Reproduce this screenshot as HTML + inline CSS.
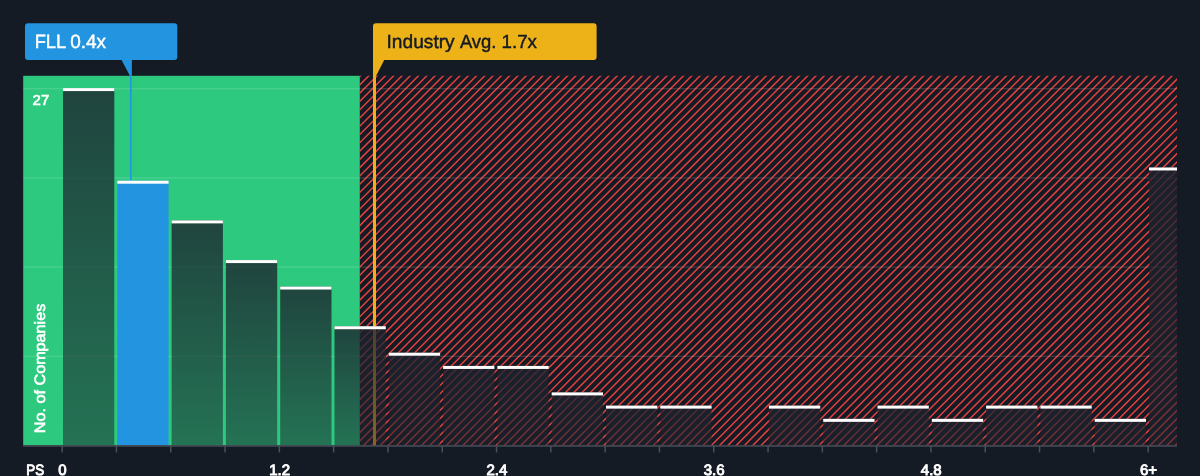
<!DOCTYPE html>
<html lang="en"><head><meta charset="utf-8"><title>PS ratio vs industry</title>
<style>html,body{margin:0;padding:0;background:#151b24;}body{width:1200px;height:476px;overflow:hidden;font-family:"Liberation Sans",sans-serif;}svg{display:block;text-rendering:geometricPrecision;}text{font-family:"Liberation Sans",sans-serif;}</style>
</head><body>
<svg width="1200" height="476" viewBox="0 0 1200 476">
<defs>
<linearGradient id="bar" x1="0" y1="0" x2="0" y2="1"><stop offset="0" stop-color="#1c232e" stop-opacity="0.8"/><stop offset="1" stop-color="#1c232e" stop-opacity="0.52"/></linearGradient>
<clipPath id="plot"><rect x="23.2" y="75.8" width="1153.8" height="369.6"/></clipPath>
</defs>
<rect width="1200" height="476" fill="#151b24"/>
<rect x="23.2" y="75.8" width="336.6" height="369.7" fill="#2dc97e"/>
<clipPath id="hz"><rect x="359.8" y="75.8" width="817.2" height="369.6"/></clipPath>
<path clip-path="url(#hz)" d="M-85.21 447L287.79 74M-76.93 447L296.07 74M-68.65 447L304.35 74M-60.37 447L312.63 74M-52.09 447L320.91 74M-43.80 447L329.20 74M-35.52 447L337.48 74M-27.24 447L345.76 74M-18.96 447L354.04 74M-10.68 447L362.32 74M-2.40 447L370.60 74M5.88 447L378.88 74M14.16 447L387.16 74M22.44 447L395.44 74M30.72 447L403.72 74M39.01 447L412.01 74M47.29 447L420.29 74M55.57 447L428.57 74M63.85 447L436.85 74M72.13 447L445.13 74M80.41 447L453.41 74M88.69 447L461.69 74M96.97 447L469.97 74M105.25 447L478.25 74M113.53 447L486.53 74M121.81 447L494.81 74M130.10 447L503.10 74M138.38 447L511.38 74M146.66 447L519.66 74M154.94 447L527.94 74M163.22 447L536.22 74M171.50 447L544.50 74M179.78 447L552.78 74M188.06 447L561.06 74M196.34 447L569.34 74M204.62 447L577.62 74M212.91 447L585.91 74M221.19 447L594.19 74M229.47 447L602.47 74M237.75 447L610.75 74M246.03 447L619.03 74M254.31 447L627.31 74M262.59 447L635.59 74M270.87 447L643.87 74M279.15 447L652.15 74M287.43 447L660.43 74M295.72 447L668.72 74M304.00 447L677.00 74M312.28 447L685.28 74M320.56 447L693.56 74M328.84 447L701.84 74M337.12 447L710.12 74M345.40 447L718.40 74M353.68 447L726.68 74M361.96 447L734.96 74M370.24 447L743.24 74M378.53 447L751.53 74M386.81 447L759.81 74M395.09 447L768.09 74M403.37 447L776.37 74M411.65 447L784.65 74M419.93 447L792.93 74M428.21 447L801.21 74M436.49 447L809.49 74M444.77 447L817.77 74M453.05 447L826.05 74M461.34 447L834.34 74M469.62 447L842.62 74M477.90 447L850.90 74M486.18 447L859.18 74M494.46 447L867.46 74M502.74 447L875.74 74M511.02 447L884.02 74M519.30 447L892.30 74M527.58 447L900.58 74M535.86 447L908.86 74M544.15 447L917.15 74M552.43 447L925.43 74M560.71 447L933.71 74M568.99 447L941.99 74M577.27 447L950.27 74M585.55 447L958.55 74M593.83 447L966.83 74M602.11 447L975.11 74M610.39 447L983.39 74M618.67 447L991.67 74M626.96 447L999.96 74M635.24 447L1008.24 74M643.52 447L1016.52 74M651.80 447L1024.80 74M660.08 447L1033.08 74M668.36 447L1041.36 74M676.64 447L1049.64 74M684.92 447L1057.92 74M693.20 447L1066.20 74M701.48 447L1074.48 74M709.77 447L1082.77 74M718.05 447L1091.05 74M726.33 447L1099.33 74M734.61 447L1107.61 74M742.89 447L1115.89 74M751.17 447L1124.17 74M759.45 447L1132.45 74M767.73 447L1140.73 74M776.01 447L1149.01 74M784.29 447L1157.29 74M792.58 447L1165.58 74M800.86 447L1173.86 74M809.14 447L1182.14 74M817.42 447L1190.42 74M825.70 447L1198.70 74M833.98 447L1206.98 74M842.26 447L1215.26 74M850.54 447L1223.54 74M858.82 447L1231.82 74M867.10 447L1240.10 74M875.39 447L1248.39 74M883.67 447L1256.67 74M891.95 447L1264.95 74M900.23 447L1273.23 74M908.51 447L1281.51 74M916.79 447L1289.79 74M925.07 447L1298.07 74M933.35 447L1306.35 74M941.63 447L1314.63 74M949.91 447L1322.91 74M958.20 447L1331.20 74M966.48 447L1339.48 74M974.76 447L1347.76 74M983.04 447L1356.04 74M991.32 447L1364.32 74M999.60 447L1372.60 74M1007.88 447L1380.88 74M1016.16 447L1389.16 74M1024.44 447L1397.44 74M1032.72 447L1405.72 74M1041.01 447L1414.01 74M1049.29 447L1422.29 74M1057.57 447L1430.57 74M1065.85 447L1438.85 74M1074.13 447L1447.13 74M1082.41 447L1455.41 74M1090.69 447L1463.69 74M1098.97 447L1471.97 74M1107.25 447L1480.25 74M1115.53 447L1488.53 74M1123.82 447L1496.82 74M1132.10 447L1505.10 74M1140.38 447L1513.38 74M1148.66 447L1521.66 74M1156.94 447L1529.94 74M1165.22 447L1538.22 74M1173.50 447L1546.50 74" stroke="#e44040" stroke-width="1.48" fill="none"/>
<rect x="23.2" y="355.70" width="1153.8" height="1.2" fill="#ffffff" fill-opacity="0.15"/>
<rect x="23.2" y="266.50" width="1153.8" height="1.2" fill="#ffffff" fill-opacity="0.15"/>
<rect x="23.2" y="177.30" width="1153.8" height="1.2" fill="#ffffff" fill-opacity="0.15"/>
<rect x="23.2" y="88.10" width="1153.8" height="1.2" fill="#ffffff" fill-opacity="0.15"/>
<rect x="373" y="58" width="3" height="387.5" fill="#eeb219"/>
<rect x="130" y="58" width="1.6" height="124" fill="#2394df"/>
<g clip-path="url(#plot)">
<rect x="63.00" y="88.09" width="51.30" height="357.21" fill="url(#bar)"/>
<rect x="117.30" y="180.70" width="51.30" height="264.60" fill="#2394df"/>
<rect x="171.60" y="220.39" width="51.30" height="224.91" fill="url(#bar)"/>
<rect x="225.90" y="260.08" width="51.30" height="185.22" fill="url(#bar)"/>
<rect x="280.20" y="286.54" width="51.30" height="158.76" fill="url(#bar)"/>
<rect x="334.50" y="326.23" width="51.30" height="119.07" fill="url(#bar)"/>
<rect x="388.80" y="352.69" width="51.30" height="92.61" fill="url(#bar)"/>
<rect x="443.10" y="365.92" width="51.30" height="79.38" fill="url(#bar)"/>
<rect x="497.40" y="365.92" width="51.30" height="79.38" fill="url(#bar)"/>
<rect x="551.70" y="392.38" width="51.30" height="52.92" fill="url(#bar)"/>
<rect x="606.00" y="405.61" width="51.30" height="39.69" fill="url(#bar)"/>
<rect x="660.30" y="405.61" width="51.30" height="39.69" fill="url(#bar)"/>
<rect x="768.90" y="405.61" width="51.30" height="39.69" fill="url(#bar)"/>
<rect x="823.20" y="418.84" width="51.30" height="26.46" fill="url(#bar)"/>
<rect x="877.50" y="405.61" width="51.30" height="39.69" fill="url(#bar)"/>
<rect x="931.80" y="418.84" width="51.30" height="26.46" fill="url(#bar)"/>
<rect x="986.10" y="405.61" width="51.30" height="39.69" fill="url(#bar)"/>
<rect x="1040.40" y="405.61" width="51.30" height="39.69" fill="url(#bar)"/>
<rect x="1094.70" y="418.84" width="51.30" height="26.46" fill="url(#bar)"/>
<rect x="1149.00" y="167.47" width="51.30" height="277.83" fill="url(#bar)"/>
<rect x="63.00" y="88.09" width="51.30" height="3" fill="#ffffff"/>
<rect x="117.30" y="180.70" width="51.30" height="3" fill="#ffffff"/>
<rect x="171.60" y="220.39" width="51.30" height="3" fill="#ffffff"/>
<rect x="225.90" y="260.08" width="51.30" height="3" fill="#ffffff"/>
<rect x="280.20" y="286.54" width="51.30" height="3" fill="#ffffff"/>
<rect x="334.50" y="326.23" width="51.30" height="3" fill="#ffffff"/>
<rect x="388.80" y="352.69" width="51.30" height="3" fill="#ffffff"/>
<rect x="443.10" y="365.92" width="51.30" height="3" fill="#ffffff"/>
<rect x="497.40" y="365.92" width="51.30" height="3" fill="#ffffff"/>
<rect x="551.70" y="392.38" width="51.30" height="3" fill="#ffffff"/>
<rect x="606.00" y="405.61" width="51.30" height="3" fill="#ffffff"/>
<rect x="660.30" y="405.61" width="51.30" height="3" fill="#ffffff"/>
<rect x="768.90" y="405.61" width="51.30" height="3" fill="#ffffff"/>
<rect x="823.20" y="418.84" width="51.30" height="3" fill="#ffffff"/>
<rect x="877.50" y="405.61" width="51.30" height="3" fill="#ffffff"/>
<rect x="931.80" y="418.84" width="51.30" height="3" fill="#ffffff"/>
<rect x="986.10" y="405.61" width="51.30" height="3" fill="#ffffff"/>
<rect x="1040.40" y="405.61" width="51.30" height="3" fill="#ffffff"/>
<rect x="1094.70" y="418.84" width="51.30" height="3" fill="#ffffff"/>
<rect x="1149.00" y="167.47" width="51.30" height="3" fill="#ffffff"/>
</g>
<rect x="23.2" y="445.1" width="1153.8" height="1.7" fill="#434954"/>
<rect x="61.40" y="446" width="1.5" height="6.4" fill="#4b515b"/>
<rect x="115.70" y="446" width="1.5" height="6.4" fill="#4b515b"/>
<rect x="170.00" y="446" width="1.5" height="6.4" fill="#4b515b"/>
<rect x="224.30" y="446" width="1.5" height="6.4" fill="#4b515b"/>
<rect x="278.60" y="446" width="1.5" height="6.4" fill="#4b515b"/>
<rect x="332.90" y="446" width="1.5" height="6.4" fill="#4b515b"/>
<rect x="387.20" y="446" width="1.5" height="6.4" fill="#4b515b"/>
<rect x="441.50" y="446" width="1.5" height="6.4" fill="#4b515b"/>
<rect x="495.80" y="446" width="1.5" height="6.4" fill="#4b515b"/>
<rect x="550.10" y="446" width="1.5" height="6.4" fill="#4b515b"/>
<rect x="604.40" y="446" width="1.5" height="6.4" fill="#4b515b"/>
<rect x="658.70" y="446" width="1.5" height="6.4" fill="#4b515b"/>
<rect x="713.00" y="446" width="1.5" height="6.4" fill="#4b515b"/>
<rect x="767.30" y="446" width="1.5" height="6.4" fill="#4b515b"/>
<rect x="821.60" y="446" width="1.5" height="6.4" fill="#4b515b"/>
<rect x="875.90" y="446" width="1.5" height="6.4" fill="#4b515b"/>
<rect x="930.20" y="446" width="1.5" height="6.4" fill="#4b515b"/>
<rect x="984.50" y="446" width="1.5" height="6.4" fill="#4b515b"/>
<rect x="1038.80" y="446" width="1.5" height="6.4" fill="#4b515b"/>
<rect x="1093.10" y="446" width="1.5" height="6.4" fill="#4b515b"/>
<rect x="1147.40" y="446" width="1.5" height="6.4" fill="#4b515b"/>
<path d="M28 23.2H174.3a3 3 0 0 1 3 3V57a3 3 0 0 1-3 3H131.6V76H130L121.6 60H28a3 3 0 0 1-3-3V26.2a3 3 0 0 1 3-3Z" fill="#2394df"/>
<g font-size="19.2" fill="#ffffff" stroke="#ffffff" stroke-width="0.45"><text x="34.7" y="48.3" textLength="31.5" lengthAdjust="spacingAndGlyphs">FLL</text><text x="70.2" y="48.3" textLength="35.9" lengthAdjust="spacingAndGlyphs">0.4x</text></g>
<path d="M376 23.2H593.6a3 3 0 0 1 3 3V57a3 3 0 0 1-3 3H384.2L376 76H373V26.2a3 3 0 0 1 3-3Z" fill="#eeb219"/>
<g font-size="19" fill="#151b24" stroke="#151b24" stroke-width="0.45"><text x="386.5" y="47.9" textLength="68.2" lengthAdjust="spacingAndGlyphs">Industry</text><text x="459.9" y="47.9" textLength="36.5" lengthAdjust="spacingAndGlyphs">Avg.</text><text x="501.6" y="47.9" textLength="35.4" lengthAdjust="spacingAndGlyphs">1.7x</text></g>
<text x="32.6" y="105.45" font-size="14.4" fill="#ffffff" stroke="#ffffff" stroke-width="0.6" textLength="16.6" lengthAdjust="spacingAndGlyphs">27</text>
<text transform="translate(44.8 433.2) rotate(-90)" font-size="15" fill="#ffffff" stroke="#ffffff" stroke-width="0.6" textLength="129.5" lengthAdjust="spacingAndGlyphs">No. of Companies</text>
<text x="26.3" y="475" font-size="15" fill="#ffffff" stroke="#ffffff" stroke-width="0.9" textLength="17.9" lengthAdjust="spacingAndGlyphs">PS</text>
<text x="62.50" y="475" font-size="15" fill="#ffffff" stroke="#ffffff" stroke-width="0.9" text-anchor="middle">0</text>
<text x="279.70" y="475" font-size="15" fill="#ffffff" stroke="#ffffff" stroke-width="0.9" text-anchor="middle">1.2</text>
<text x="496.90" y="475" font-size="15" fill="#ffffff" stroke="#ffffff" stroke-width="0.9" text-anchor="middle">2.4</text>
<text x="714.10" y="475" font-size="15" fill="#ffffff" stroke="#ffffff" stroke-width="0.9" text-anchor="middle">3.6</text>
<text x="931.30" y="475" font-size="15" fill="#ffffff" stroke="#ffffff" stroke-width="0.9" text-anchor="middle">4.8</text>
<text x="1148.50" y="475" font-size="15" fill="#ffffff" stroke="#ffffff" stroke-width="0.9" text-anchor="middle">6+</text>
</svg></body></html>
